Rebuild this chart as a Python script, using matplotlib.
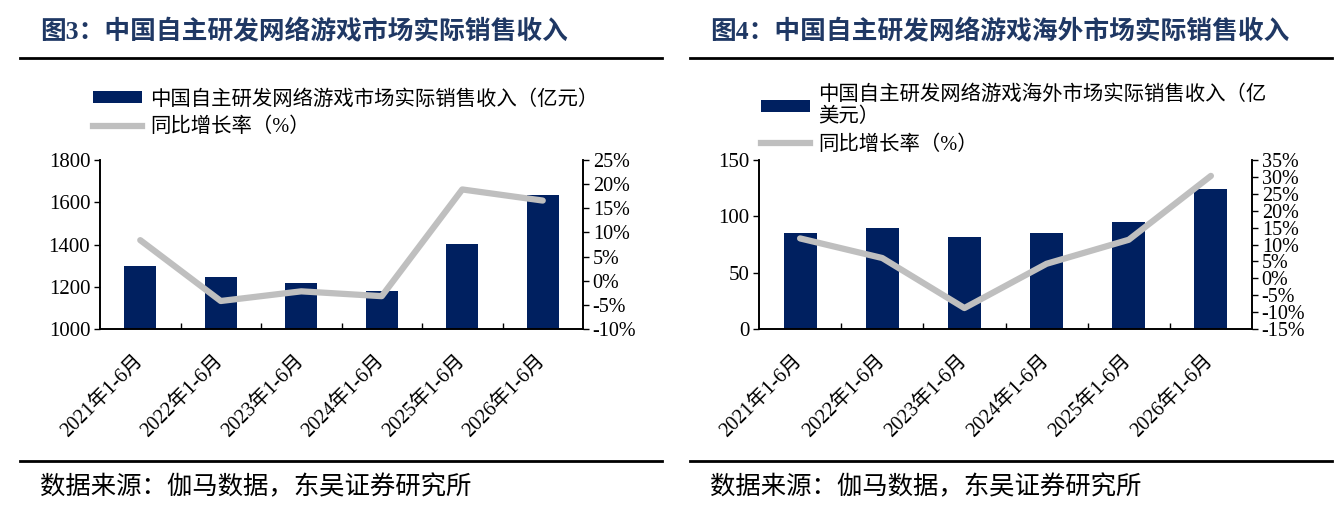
import numpy as np
import matplotlib.pyplot as plt
from matplotlib.lines import Line2D
from matplotlib.patches import Patch
from matplotlib.ticker import FixedLocator

# data
periods = ['2021年1-6月', '2022年1-6月', '2023年1-6月',
           '2024年1-6月', '2025年1-6月', '2026年1-6月']
dom_rev = [1300, 1245, 1217, 1178, 1401, 1634]      # 亿元
dom_yoy = [8.4, -4.2, -2.2, -3.2, 18.9, 16.6]        # %
os_rev = [85.0, 90.0, 82.1, 85.6, 95.4, 124.3]      # 亿美元
os_yoy = [11.8, 6.0, -8.8, 4.3, 11.4, 30.3]          # %

title_l = '图3：中国自主研发网络游戏市场实际销售收入'
title_r = '图4：中国自主研发网络游戏海外市场实际销售收入'
bar_lab_l = '中国自主研发网络游戏市场实际销售收入（亿元）'
bar_lab_r = '中国自主研发网络游戏海外市场实际销售收入（亿\n美元）'
line_lab = '同比增长率（%）'
source = '数据来源：伽马数据，东吴证券研究所'

NAVY = '#002060'
GRAY = '#BFBFBF'
TITLE_C = '#1F3864'
FAM = ['Liberation Serif', 'Noto Sans CJK SC']

plt.rcParams['font.family'] = FAM
plt.rcParams['axes.unicode_minus'] = False

W, H = 1342, 516
fig = plt.figure(figsize=(W / 100, H / 100), dpi=100)


def fx(px):
    return px / W


def fy(py):
    return 1 - py / H


def panel(x0, x1, vals, yoy, ylim, yticks, rlim, rticks, bar_lab,
          title, tx, rule, leg_xy):
    ax = fig.add_axes([fx(x0), fy(329), fx(x1) - fx(x0), fy(160) - fy(329)])
    x = np.arange(len(vals))
    ax.bar(x, vals, width=0.4, color=NAVY, label=bar_lab, zorder=2)
    ax.set_xlim(-0.5, len(vals) - 0.5)
    ax.set_ylim(*ylim)
    ax.set_yticks(yticks)
    ax.set_xticks(x)
    ax.set_xticklabels(periods, rotation=45, ha='right', va='center',
                       rotation_mode='anchor', fontsize=14.5)
    ax.xaxis.set_minor_locator(FixedLocator(np.arange(0.5, len(vals) - 1, 1)))
    ax.tick_params(axis='x', which='major', length=0, pad=21)
    ax.tick_params(axis='x', which='minor', length=4, direction='in', width=1)
    ax.tick_params(axis='y', labelsize=15, length=4, width=1, pad=3)
    ax.spines['top'].set_visible(False)
    for s in ax.spines.values():
        s.set_linewidth(1.2)

    ax2 = ax.twinx()
    ax2.plot(x, yoy, color=GRAY, lw=4.5, solid_capstyle='round',
             label=line_lab, zorder=3)
    ax2.set_ylim(*rlim)
    ax2.set_yticks(rticks)
    ax2.set_yticklabels(['{:.0f}%'.format(t) for t in rticks])
    ax2.tick_params(axis='y', labelsize=14.5, length=4, width=1, pad=3)
    ax2.spines['top'].set_visible(False)
    for s in ax2.spines.values():
        s.set_linewidth(1.2)

    handles = [Patch(facecolor=NAVY, edgecolor='none'),
               Line2D([], [], color=GRAY, lw=4.5)]
    fig.legend(handles, [bar_lab, line_lab], loc='upper left',
               bbox_to_anchor=(fx(leg_xy[0]), fy(leg_xy[1])),
               frameon=False, fontsize=14.7, handlelength=2.4,
               handleheight=0.5, handletextpad=0.4, labelspacing=0.4,
               borderpad=0, borderaxespad=0)

    fig.text(fx(tx), fy(32), title, fontsize=18.5, fontweight='bold',
             color=TITLE_C, va='center', ha='left')
    fig.text(fx(tx), fy(487), source, fontsize=18.3, va='center', ha='left')
    for yy in (58, 461):
        fig.add_artist(Line2D([fx(rule[0]), fx(rule[1])], [fy(yy), fy(yy)],
                              color='black', lw=2))
    return ax, ax2


panel(100, 583, dom_rev, dom_yoy, (1000, 1800), np.arange(1000, 1801, 200),
      (-10, 25), np.arange(-10, 26, 5), bar_lab_l, title_l, 40, (20, 662),
      (93, 90))
panel(759, 1252, os_rev, os_yoy, (0, 150), np.arange(0, 151, 50),
      (-15, 35), np.arange(-15, 36, 5), bar_lab_r, title_r, 710, (690, 1332),
      (761, 85))

plt.savefig('out.png', dpi=100)
